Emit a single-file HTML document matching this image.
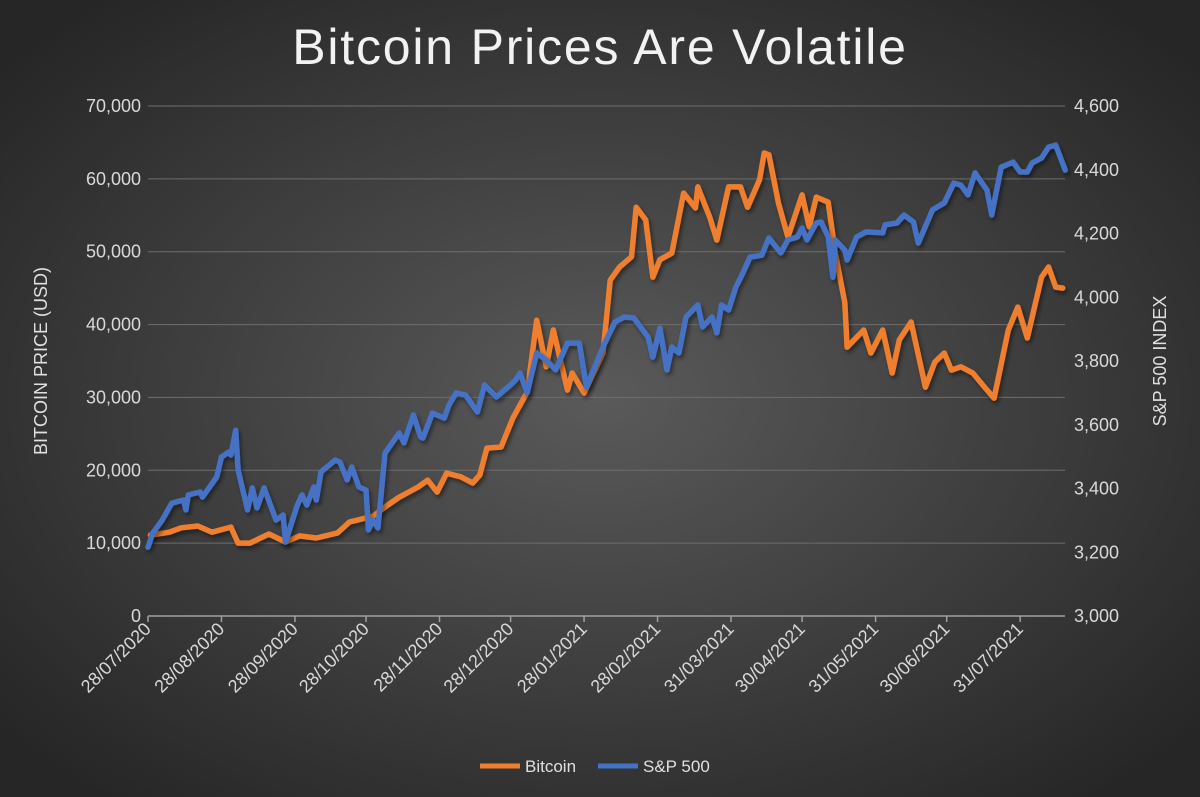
<!DOCTYPE html>
<html><head><meta charset="utf-8"><style>
html,body{margin:0;padding:0;width:1200px;height:797px;overflow:hidden;background:#2b2b2b}
svg{display:block}
text{font-family:"Liberation Sans",sans-serif}
</style></head><body>
<svg id="chart" width="1200" height="797">
<defs>
<radialGradient id="bg" cx="50%" cy="50%" r="65%">
<stop offset="0" stop-color="#5a5a5a"/><stop offset="1" stop-color="#262626"/>
</radialGradient>
<filter id="sh" x="-5%" y="-5%" width="110%" height="110%"><feDropShadow dx="2" dy="3" stdDeviation="2" flood-color="#000" flood-opacity="0.45"/></filter>
</defs>
<rect width="1200" height="797" fill="url(#bg)"/>
<text x="600" y="64" text-anchor="middle" font-size="50" letter-spacing="1.8" fill="#f2f2f2">Bitcoin Prices Are Volatile</text>
<text transform="translate(47,361) rotate(-90)" text-anchor="middle" font-size="18" fill="#e0e0e0">BITCOIN PRICE (USD)</text>
<text transform="translate(1166,361) rotate(-90)" text-anchor="middle" font-size="18" fill="#e0e0e0">S&amp;P 500 INDEX</text>
<g id="grid"></g><g id="axes"></g><g id="lines"></g>
<g>
<line x1="480" y1="766" x2="520" y2="766" stroke="#ef7f2d" stroke-width="5"/>
<text x="525" y="772" font-size="17" fill="#e0e0e0">Bitcoin</text>
<line x1="598" y1="766" x2="638" y2="766" stroke="#4472c4" stroke-width="5"/>
<text x="643" y="772" font-size="17" fill="#e0e0e0">S&amp;P 500</text>
</g>
</svg>
<script>
const leftTicks=[0,10000,20000,30000,40000,50000,60000,70000];
const rightTicks=[3000,3200,3400,3600,3800,4000,4200,4400,4600];
const dateLabels=["28/07/2020","28/08/2020","28/09/2020","28/10/2020","28/11/2020","28/12/2020","28/01/2021","28/02/2021","31/03/2021","30/04/2021","31/05/2021","30/06/2021","31/07/2021"];
const dateDays=[0,31,62,92,123,153,184,215,246,276,307,337,368];
const btcDays=[1,9,14,21,27,35,38,43,51,58,64,71,80,85,95,101,106,114,118,122,126,132,137,140,143,149,154,160,164,168,171,177,179,184,192,195,199,204,206,210,213,216,221,226,231,232,237,240,245,250,253,258,260,262,266,270,276,279,282,287,290,294,295,302,305,310,314,317,322,328,332,336,339,343,348,353,357,363,367,371,377,380,383,386];
const btcValues=[11100,11500,12100,12350,11500,12200,10000,10000,11250,10150,11000,10700,11400,12900,13700,15200,16300,17700,18650,17000,19600,19100,18250,19350,23050,23200,27200,30750,40600,34200,39250,31000,33350,30600,36100,46100,47900,49300,56100,54350,46500,48900,49800,58050,56000,58900,54750,51600,58900,58900,56100,59850,63550,63300,56700,52000,57800,53400,57500,56800,49800,43000,36900,39250,36100,39250,33350,37900,40350,31400,34850,36100,33750,34200,33350,31400,29900,39250,42400,38150,46500,47900,45150,45000];
const spDays=[0,2,6,10,15,16,17,22,23,29,31,34,35,37,38,42,44,46,49,54,57,58,63,65,67,70,71,73,79,81,84,86,89,92,93,95,97,100,103,106,108,112,115,116,120,125,127,130,134,139,142,147,153,155,157,160,164,168,172,177,182,185,192,197,201,205,211,213,216,219,221,224,227,232,234,238,240,242,245,248,251,254,259,262,267,270,274,276,278,282,284,287,289,290,294,295,299,303,310,311,316,319,323,325,331,336,340,343,346,349,354,356,360,365,368,371,373,377,380,383,387];
const spValues=[3216,3260,3301,3354,3364,3333,3380,3389,3373,3436,3499,3514,3505,3583,3458,3333,3402,3339,3402,3301,3317,3232,3348,3380,3348,3405,3364,3452,3489,3483,3427,3467,3405,3395,3270,3301,3276,3511,3543,3574,3543,3631,3562,3558,3637,3621,3662,3700,3693,3640,3725,3687,3725,3740,3762,3700,3825,3803,3772,3856,3856,3718,3844,3922,3938,3935,3875,3812,3903,3772,3844,3825,3938,3976,3907,3938,3888,3976,3960,4032,4076,4126,4132,4186,4139,4180,4189,4217,4180,4233,4236,4189,4063,4180,4148,4117,4189,4205,4202,4227,4233,4258,4236,4170,4274,4296,4358,4352,4321,4390,4336,4258,4408,4424,4393,4393,4421,4437,4471,4477,4399];

const NS="http://www.w3.org/2000/svg";
const X0=148,PXD=2.37,YB=616,YT=106;
const xs=d=>X0+d*PXD;
const yl=v=>YB-(v/70000)*(YB-YT);
const yr=v=>YB-((v-3000)/1600)*(YB-YT);
function mk(tag,attrs,parent,txt){const e=document.createElementNS(NS,tag);for(const k in attrs)e.setAttribute(k,attrs[k]);if(txt!==undefined)e.textContent=txt;parent.appendChild(e);return e;}
const grid=document.getElementById('grid'),axes=document.getElementById('axes'),lines=document.getElementById('lines');
leftTicks.forEach(v=>{
  if(v>0){const g=mk('line',{x1:X0,x2:1065,y1:yl(v),y2:yl(v),stroke:'#6e6e6e','stroke-width':1},grid);
  
  }
  const t=mk('text',{x:141,y:yl(v)+6,'text-anchor':'end','font-size':18,fill:'#d9d9d9'},axes,v.toLocaleString('en-US'));
  
  
});
rightTicks.forEach(v=>{
  const t=mk('text',{x:1074,y:yr(v)+6,'font-size':18,fill:'#d9d9d9'},axes,v.toLocaleString('en-US'));
  
  
});
const ax=mk('line',{x1:X0,x2:1065,y1:YB,y2:YB,stroke:'#a0a0a0','stroke-width':1.5},axes);


dateDays.forEach((d,i)=>{
  const x=xs(d);
  const tk=mk('line',{x1:x,x2:x,y1:YB,y2:YB+6,stroke:'#a0a0a0','stroke-width':1.5},axes);
  
  
  const t=mk('text',{transform:`translate(${x+4},${YB+14}) rotate(-45)`,'text-anchor':'end','font-size':18,fill:'#d9d9d9'},axes,dateLabels[i]);
  
  
});
function path(days,vals,yf){return days.map((d,i)=>(i?'L':'M')+xs(d).toFixed(1)+','+yf(vals[i]).toFixed(1)).join('');}
const b=mk('path',{d:path(btcDays,btcValues,yl),fill:'none',stroke:'#ef7f2d','stroke-width':5.5,'stroke-linejoin':'round','stroke-linecap':'round',filter:'url(#sh)'},lines);


const s=mk('path',{d:path(spDays,spValues,yr),fill:'none',stroke:'#4472c4','stroke-width':5.5,'stroke-linejoin':'round','stroke-linecap':'round',filter:'url(#sh)'},lines);


</script>
</body></html>
